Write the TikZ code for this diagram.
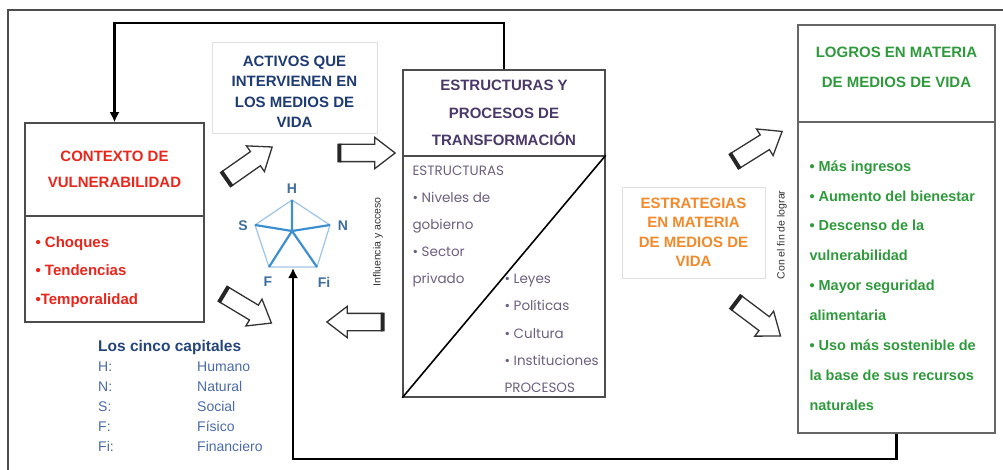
\documentclass[tikz,border=0pt]{standalone}
\usepackage{fontspec}
\setmainfont{Liberation Sans}
\newfontfamily\geofont{Poppins}
\usetikzlibrary{shapes.arrows,arrows.meta}

\definecolor{ctxred}{HTML}{E8261C}
\definecolor{actnavy}{HTML}{1F3B73}
\definecolor{structpurple}{HTML}{4A3868}
\definecolor{structgray}{HTML}{6D5F80}
\definecolor{stratorange}{HTML}{F2892A}
\definecolor{logrosgreen}{HTML}{2F9A3C}
\definecolor{legnavy}{HTML}{25447A}
\definecolor{legblue}{HTML}{4A6AA8}
\definecolor{pentablue}{HTML}{3D8FD0}
\definecolor{pentaline}{HTML}{9FC3E3}
\definecolor{pentalbl}{HTML}{3F6E9E}

\begin{document}
\begin{tikzpicture}[
    x = 1pt, y = -1pt,
    bigbox/.style = {draw = black!70, line width = 1.5pt, inner sep = 0pt},
    softbox/.style = {draw = black!12, line width = 0.8pt, fill = white, inner sep = 0pt},
    feedback/.style = {line width = 2.6pt, -{Latex[length = 10pt, width = 10pt]}},
    blockarrow/.style = {single arrow, draw = black!80, fill = white, line width = 1.3pt,
        minimum height = 55pt, inner sep = 8pt, single arrow head extend = 7pt,
        single arrow tip angle = 75},
    tailband/.style = {line width = 4pt, black!85},
    title/.style = {font = \bfseries\fontsize{15}{26}\selectfont, align = center},
    item/.style = {font = \bfseries\fontsize{15}{28.5}\selectfont, align = left, anchor = west},
    structitem/.style = {font = \geofont\fontsize{13.5}{27.2}\selectfont, text = structgray,
        align = left, anchor = west},
    penlbl/.style = {font = \bfseries\fontsize{14}{14}\selectfont, text = pentalbl},
    sidelbl/.style = {font = \fontsize{10.5}{12}\selectfont, text = black!80, rotate = 90}]

\useasboundingbox (0,0) rectangle (1003,470);

% frame
\draw[black!70, line width = 1.5pt] (8,470) -- (8,10) -- (1003,10);

% context
\node[bigbox, minimum width = 179pt, minimum height = 93pt, title, text = ctxred]
    (ctxhead) at (114.5,169.5) {CONTEXTO DE\\VULNERABILIDAD};
\node[bigbox, minimum width = 179pt, minimum height = 106pt]
    (ctxbody) at (114.5,269) {};
\node[item, text = ctxred] (ctxlist) at (32,272)
    {• Choques\\• Tendencias\\•Temporalidad};

% assets
\node[softbox, minimum width = 165pt, minimum height = 91pt] (actbox) at (294.5,87.5) {};
\node[title, text = actnavy, font = \bfseries\fontsize{15}{20.5}\selectfont]
    (acttitle) at (294.5,92) {ACTIVOS QUE\\INTERVIENEN EN\\LOS MEDIOS DE\\VIDA};

% pentagon
\coordinate (pH) at (292,200);
\coordinate (pN) at (330,225);
\coordinate (pFi) at (317,267);
\coordinate (pF) at (269,267);
\coordinate (pS) at (255,225);
\coordinate (pc) at (292,231);
\coordinate (pbot) at (293,268);
\draw[pentaline, line width = 1.2pt] (pH) -- (pN) -- (pFi) -- (pF) -- (pS) -- cycle;
\draw[pentablue, line width = 2.2pt] (pc) -- (pH) (pc) -- (pN) (pc) -- (pFi)
    (pc) -- (pF) (pc) -- (pS);
\path (292,189) node[penlbl] (lH) {H}
      (343,226) node[penlbl] (lN) {N}
      (243,226) node[penlbl] (lS) {S}
      (268,282) node[penlbl] (lF) {F}
      (324,282) node[penlbl] (lFi) {Fi};

\node[sidelbl] (influ) at (378,242) {Influencia y acceso};

% structures and processes
\node[bigbox, minimum width = 202pt, minimum height = 86pt, title, text = structpurple,
    font = \bfseries\fontsize{15}{27.5}\selectfont]
    (structhead) at (504,113) {ESTRUCTURAS Y\\PROCESOS DE\\TRANSFORMACIÓN};
\node[bigbox, minimum width = 202pt, minimum height = 241pt]
    (structbody) at (504,276.5) {};
\draw[line width = 1.6pt] (structbody.south west) -- (structbody.north east);
\node[structitem] (structleft) at (409,226.5)
    {ESTRUCTURAS\\• Niveles de\\gobierno\\• Sector\\privado};
\node[structitem] (structright) at (501,333.5)
    {• Leyes\\• Políticas\\• Cultura\\• Instituciones\\PROCESOS};

% strategies
\node[softbox, minimum width = 143pt, minimum height = 91pt, title, text = stratorange,
    font = \bfseries\fontsize{15}{19.5}\selectfont]
    (stratbox) at (693.5,232.5) {ESTRATEGIAS\\EN MATERIA\\DE MEDIOS DE\\VIDA};
\node[sidelbl] (confin) at (782,235) {Con el fin de lograr};

% outcomes
\node[bigbox, draw = black!60, minimum width = 197pt, minimum height = 97pt]
    (logroshead) at (896.5,73.5) {};
\node[title, text = logrosgreen, font = \bfseries\fontsize{15}{30}\selectfont]
    (logrostitle) at (896.5,67) {LOGROS EN MATERIA\\DE MEDIOS DE VIDA};
\node[bigbox, draw = black!60, minimum width = 197pt, minimum height = 311pt]
    (logrosbody) at (896.5,277.5) {};
\node[item, text = logrosgreen, font = \bfseries\fontsize{14.5}{29.9}\selectfont]
    (logroslist) at (806,285.5)
    {• Más ingresos\\• Aumento del bienestar\\• Descenso de la\\vulnerabilidad\\%
     • Mayor seguridad\\alimentaria\\• Uso más sostenible de\\la base de sus recursos\\naturales};

% block arrows
\node[blockarrow, rotate = 35] (a1) at (245,166) {};
\node[blockarrow, rotate = -31] (a2) at (243,306) {};
\node[blockarrow] (a3) at (362,153) {};
\node[blockarrow, rotate = 180] (a4) at (360,322) {};
\node[blockarrow, rotate = 32] (a5) at (754,149) {};
\node[blockarrow, rotate = -37] (a6) at (754,316) {};
\draw[tailband] (a1.before tail) -- (a1.after tail)
    (a2.before tail) -- (a2.after tail)
    (a3.before tail) -- (a3.after tail)
    (a4.before tail) -- (a4.after tail)
    (a5.before tail) -- (a5.after tail)
    (a6.before tail) -- (a6.after tail);

% feedback loops
\coordinate (topy) at (0,23);
\coordinate (boty) at (0,459);
\draw[feedback] (structhead.north) -- (structhead.north |- topy)
    -- (ctxhead.north |- topy) -- (ctxhead.north);
\draw[feedback] (logrosbody.south) -- (logrosbody.south |- boty)
    -- (pbot |- boty) -- (pbot);

% legend
\node[anchor = north west, inner sep = 0pt, text = legblue,
    font = \fontsize{14}{20}\selectfont] (legend) at (98,337)
    {\begin{tabular}{@{}p{99pt}@{}l@{}}
     \multicolumn{2}{@{}l@{}}{\textcolor{legnavy}{\bfseries\fontsize{15.5}{18}\selectfont Los cinco capitales}}\\
     H: & Humano\\
     N: & Natural\\
     S: & Social\\
     F: & Físico\\
     Fi: & Financiero
     \end{tabular}};
\end{tikzpicture}
\end{document}
